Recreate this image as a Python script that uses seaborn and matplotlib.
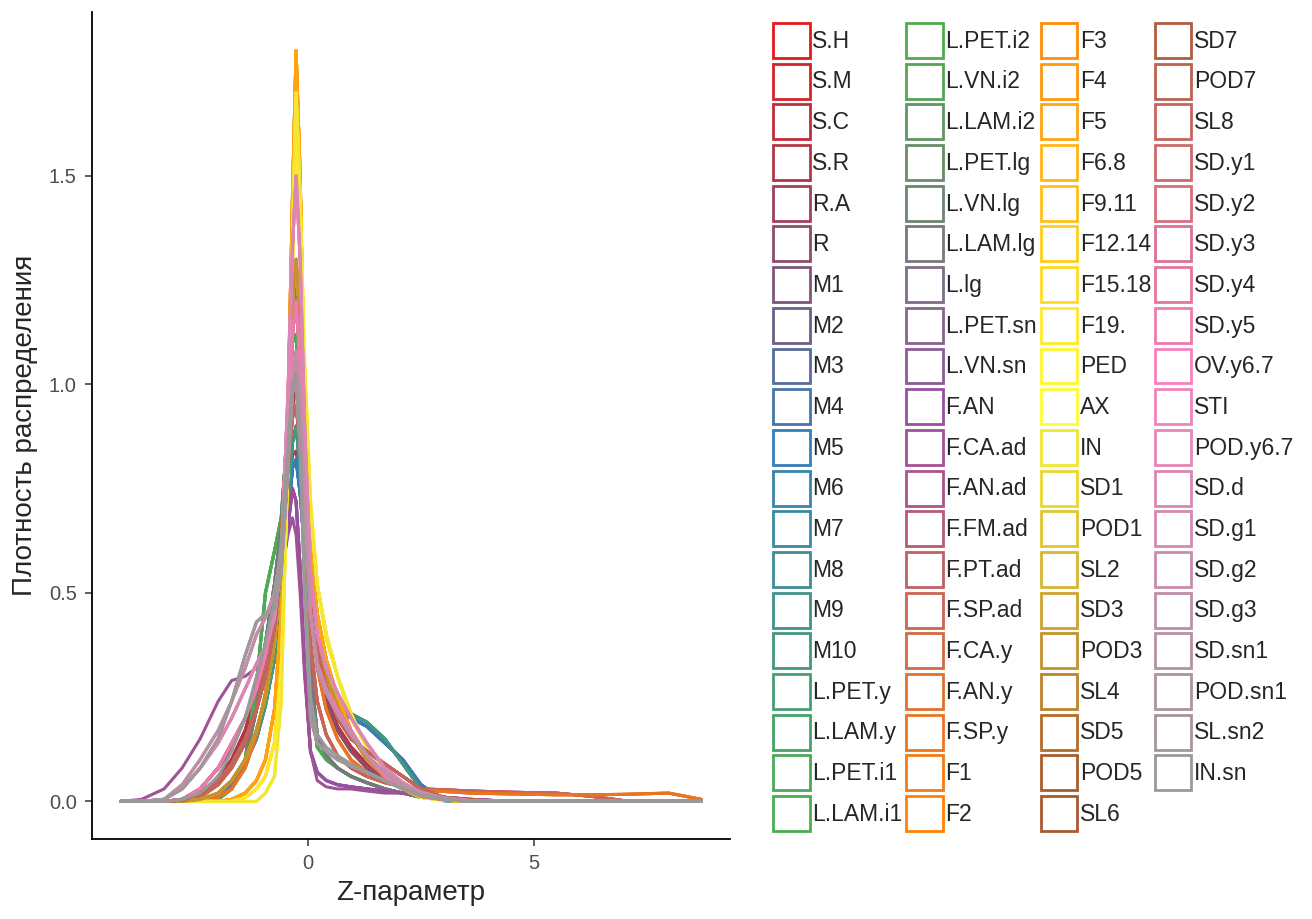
import numpy as np
import pandas as pd
import matplotlib
matplotlib.use('Agg')
import matplotlib.pyplot as plt
from matplotlib.colors import LinearSegmentedColormap
from matplotlib.patches import Patch
import seaborn as sns

z_grid = [-4.16, -3.7, -3.2, -2.8, -2.4, -2.0, -1.7, -1.4,
          -1.15, -0.95, -0.75, -0.6, -0.45, -0.35, -0.27, -0.18, -0.08, 0.05,
          0.2, 0.4, 0.65, 0.95, 1.3, 1.7, 2.1, 2.5,
          3.0, 3.6, 4.5, 5.5, 6.3, 7.0, 8.0, 8.72]

# density curves, one per group of traits with a similar shape
stem = [0, 0, 0, 0, 0.01, 0.06, 0.1, 0.17,
        0.26, 0.35, 0.45, 0.58, 0.8, 0.95, 1.0, 0.9, 0.7, 0.48,
        0.34, 0.25, 0.18, 0.13, 0.09, 0.06, 0.035, 0.02,
        0.01, 0.004, 0, 0, 0, 0, 0, 0]
root = [0, 0, 0, 0.005, 0.03, 0.08, 0.13, 0.2,
        0.28, 0.36, 0.46, 0.58, 0.74, 0.83, 0.84, 0.78, 0.64, 0.46,
        0.33, 0.24, 0.17, 0.12, 0.08, 0.05, 0.03, 0.015,
        0.006, 0.002, 0, 0, 0, 0, 0, 0]
m_a = [0, 0, 0, 0, 0.003, 0.02, 0.05, 0.1,
       0.17, 0.25, 0.36, 0.5, 0.68, 0.8, 0.82, 0.74, 0.6, 0.45,
       0.34, 0.27, 0.22, 0.2, 0.18, 0.14, 0.1, 0.04,
       0.003, 0, 0, 0, 0, 0, 0, 0]
m_b = [0, 0, 0, 0, 0, 0.01, 0.04, 0.09,
       0.15, 0.23, 0.34, 0.5, 0.72, 0.86, 0.9, 0.8, 0.62, 0.46,
       0.35, 0.28, 0.23, 0.21, 0.19, 0.15, 0.09, 0.03,
       0.002, 0, 0, 0, 0, 0, 0, 0]
leaf_a = [0, 0, 0, 0, 0, 0.005, 0.03, 0.1,
          0.28, 0.5, 0.6, 0.68, 0.9, 1.1, 1.12, 0.95, 0.6, 0.25,
          0.13, 0.1, 0.08, 0.06, 0.045, 0.03, 0.02, 0.01,
          0.005, 0, 0, 0, 0, 0, 0, 0]
leaf_b = [0, 0, 0, 0, 0, 0.01, 0.04, 0.1,
          0.22, 0.38, 0.52, 0.66, 0.92, 1.18, 1.25, 1.1, 0.72, 0.32,
          0.16, 0.11, 0.08, 0.06, 0.045, 0.03, 0.02, 0.01,
          0.004, 0, 0, 0, 0, 0, 0, 0]
leaf_c = [0, 0, 0, 0.005, 0.03, 0.08, 0.13, 0.2,
          0.27, 0.34, 0.42, 0.52, 0.66, 0.75, 0.72, 0.56, 0.32, 0.12,
          0.07, 0.05, 0.04, 0.035, 0.03, 0.025, 0.02, 0.015,
          0.01, 0.005, 0, 0, 0, 0, 0, 0]
bimodal = [0, 0.005, 0.03, 0.08, 0.15, 0.24, 0.29, 0.3,
           0.32, 0.36, 0.44, 0.54, 0.64, 0.68, 0.64, 0.5, 0.3, 0.12,
           0.05, 0.035, 0.03, 0.03, 0.025, 0.02, 0.02, 0.015,
           0.01, 0.005, 0, 0, 0, 0, 0, 0]
f_ad = [0, 0, 0, 0, 0.01, 0.04, 0.08, 0.14,
        0.22, 0.32, 0.45, 0.6, 0.8, 0.92, 0.95, 0.85, 0.62, 0.38,
        0.24, 0.16, 0.11, 0.08, 0.06, 0.045, 0.035, 0.03,
        0.028, 0.025, 0.022, 0.02, 0.012, 0.002, 0, 0]
f_y = [0, 0, 0, 0, 0, 0.01, 0.03, 0.08,
       0.16, 0.26, 0.42, 0.62, 0.95, 1.2, 1.3, 1.15, 0.8, 0.5,
       0.32, 0.22, 0.15, 0.1, 0.07, 0.05, 0.035, 0.028,
       0.024, 0.02, 0.018, 0.016, 0.016, 0.017, 0.02, 0.005]
f_tall = [0, 0, 0, 0, 0, 0, 0.005, 0.02,
          0.05, 0.1, 0.22, 0.45, 0.95, 1.45, 1.8, 1.5, 0.95, 0.6,
          0.45, 0.34, 0.25, 0.17, 0.1, 0.06, 0.03, 0.012,
          0.004, 0, 0, 0, 0, 0, 0, 0]
f_mid = [0, 0, 0, 0, 0, 0, 0, 0.01,
         0.03, 0.06, 0.14, 0.32, 0.8, 1.3, 1.6, 1.4, 1.0, 0.7,
         0.52, 0.4, 0.3, 0.21, 0.13, 0.07, 0.03, 0.01,
         0.003, 0, 0, 0, 0, 0, 0, 0]
ped = [0, 0, 0, 0, 0, 0, 0, 0,
       0, 0.02, 0.06, 0.24, 0.85, 1.35, 1.7, 1.45, 1.05, 0.72,
       0.52, 0.39, 0.3, 0.2, 0.13, 0.07, 0.03, 0.01,
       0.003, 0, 0, 0, 0, 0, 0, 0]
seed_a = [0, 0, 0, 0, 0.005, 0.02, 0.05, 0.1,
          0.17, 0.25, 0.38, 0.55, 0.9, 1.2, 1.3, 1.15, 0.85, 0.56,
          0.4, 0.3, 0.23, 0.16, 0.1, 0.06, 0.03, 0.012,
          0.004, 0, 0, 0, 0, 0, 0, 0]
seed_b = [0, 0, 0, 0.003, 0.02, 0.05, 0.09, 0.15,
          0.22, 0.3, 0.42, 0.57, 0.8, 0.98, 1.05, 0.95, 0.72, 0.5,
          0.36, 0.27, 0.2, 0.15, 0.12, 0.09, 0.06, 0.03,
          0.01, 0.003, 0, 0, 0, 0, 0, 0]
sd_y = [0, 0, 0, 0.005, 0.03, 0.08, 0.14, 0.2,
        0.27, 0.35, 0.45, 0.6, 0.88, 1.12, 1.2, 1.05, 0.75, 0.45,
        0.33, 0.27, 0.22, 0.17, 0.11, 0.06, 0.03, 0.015,
        0.005, 0, 0, 0, 0, 0, 0, 0]
pink_a = [0, 0, 0.005, 0.03, 0.08, 0.14, 0.2, 0.27,
          0.33, 0.37, 0.44, 0.58, 0.98, 1.33, 1.5, 1.3, 0.9, 0.55,
          0.4, 0.32, 0.26, 0.2, 0.14, 0.08, 0.045, 0.022,
          0.008, 0.002, 0, 0, 0, 0, 0, 0]
pink_b = [0, 0, 0.005, 0.04, 0.1, 0.17, 0.24, 0.32,
          0.4, 0.44, 0.5, 0.6, 0.82, 1.0, 1.08, 0.98, 0.72, 0.45,
          0.32, 0.26, 0.21, 0.16, 0.11, 0.07, 0.04, 0.02,
          0.008, 0, 0, 0, 0, 0, 0, 0]
sn = [0, 0, 0.005, 0.03, 0.08, 0.15, 0.24, 0.35,
      0.43, 0.45, 0.46, 0.55, 0.8, 0.98, 1.0, 0.85, 0.5, 0.2,
      0.14, 0.12, 0.1, 0.085, 0.07, 0.05, 0.03, 0.015,
      0.006, 0, 0, 0, 0, 0, 0, 0]
in_sn = [0, 0, 0, 0.005, 0.02, 0.06, 0.12, 0.2,
         0.3, 0.38, 0.48, 0.62, 0.85, 1.0, 1.02, 0.88, 0.55, 0.25,
         0.16, 0.13, 0.11, 0.09, 0.07, 0.05, 0.03, 0.015,
         0.005, 0, 0, 0, 0, 0, 0, 0]

# traits in legend order and the curve each one follows
series_names = ['S.H', 'S.M', 'S.C', 'S.R', 'R.A', 'R',
                'M1', 'M2', 'M3', 'M4', 'M5', 'M6', 'M7', 'M8', 'M9', 'M10',
                'L.PET.y', 'L.LAM.y', 'L.PET.i1', 'L.LAM.i1',
                'L.PET.i2', 'L.VN.i2', 'L.LAM.i2', 'L.PET.lg', 'L.VN.lg', 'L.LAM.lg',
                'L.lg', 'L.PET.sn', 'L.VN.sn', 'F.AN', 'F.CA.ad',
                'F.AN.ad', 'F.FM.ad', 'F.PT.ad', 'F.SP.ad',
                'F.CA.y', 'F.AN.y', 'F.SP.y',
                'F1', 'F2', 'F3', 'F4', 'F5',
                'F6.8', 'F9.11', 'F12.14', 'F15.18', 'F19.',
                'PED', 'AX', 'IN',
                'SD1', 'POD1', 'SL2', 'SD3', 'POD3',
                'SL4', 'SD5', 'POD5', 'SL6', 'SD7', 'POD7', 'SL8',
                'SD.y1', 'SD.y2', 'SD.y3', 'SD.y4', 'SD.y5',
                'OV.y6.7', 'STI', 'POD.y6.7', 'SD.d',
                'SD.g1', 'SD.g2', 'SD.g3',
                'SD.sn1', 'POD.sn1', 'SL.sn2', 'IN.sn']
series_shape = ['stem'] * 4 + ['root'] * 2 + ['m_a'] * 5 + ['m_b'] * 5 + \
               ['leaf_a'] * 4 + ['leaf_b'] * 6 + ['leaf_c'] * 4 + ['bimodal'] + \
               ['f_ad'] * 4 + ['f_y'] * 3 + ['f_tall'] * 5 + ['f_mid'] * 5 + \
               ['ped'] * 3 + ['seed_a'] * 5 + ['seed_b'] * 7 + ['sd_y'] * 5 + \
               ['pink_a'] * 4 + ['pink_b'] * 3 + ['sn'] * 3 + ['in_sn']

curves = {'stem': stem, 'root': root, 'm_a': m_a, 'm_b': m_b,
          'leaf_a': leaf_a, 'leaf_b': leaf_b, 'leaf_c': leaf_c, 'bimodal': bimodal,
          'f_ad': f_ad, 'f_y': f_y, 'f_tall': f_tall, 'f_mid': f_mid, 'ped': ped,
          'seed_a': seed_a, 'seed_b': seed_b, 'sd_y': sd_y,
          'pink_a': pink_a, 'pink_b': pink_b, 'sn': sn, 'in_sn': in_sn}

# long table: one row per trait and z value
rows = []
for name, shape in zip(series_names, series_shape):
    for z, d in zip(z_grid, curves[shape]):
        rows.append((name, z, d))
df = pd.DataFrame(rows, columns=['trait', 'z', 'density'])

# Set1 colours stretched over all traits
set1 = ['#E41A1C', '#377EB8', '#4DAF4A', '#984EA3', '#FF7F00',
        '#FFFF33', '#A65628', '#F781BF', '#999999']
ramp = LinearSegmentedColormap.from_list('set1_ramp', set1)
colors = [ramp(v) for v in np.linspace(0, 1, len(series_names))]

sns.set_theme(style='ticks')
plt.rcParams['font.family'] = ['Liberation Sans', 'DejaVu Sans']

fig = plt.figure(figsize=(13.12, 9.19), dpi=100)
ax = fig.add_axes([0.0701, 0.087, 0.4863, 0.900])

sns.lineplot(data=df, x='z', y='density', hue='trait', hue_order=series_names,
             palette=colors, estimator=None, linewidth=2.2, legend=False, ax=ax)

ax.set_xlim(-4.8, 9.36)
ax.set_ylim(-0.0902, 1.893)
ax.set_xticks([0, 5])
ax.set_xticklabels(['0', '5'])
ax.set_yticks([0, 0.5, 1.0, 1.5])
ax.set_yticklabels(['0.0', '0.5', '1.0', '1.5'])
sns.despine(ax=ax)
for side in ['left', 'bottom']:
    ax.spines[side].set_linewidth(1.3)
    ax.spines[side].set_color('black')
ax.tick_params(length=5, width=1.1, color='#333333', labelcolor='#4D4D4D',
               labelsize=14.5, pad=6)

ax.set_xlabel('Z-параметр', fontsize=20)
ax.set_ylabel('Плотность распределения', fontsize=20)
ax.xaxis.set_label_coords(0.5, -0.05)
ax.yaxis.set_label_coords(-0.085, 0.5)

handles = [Patch(facecolor='white', edgecolor=c, linewidth=2.0, label=n)
           for n, c in zip(series_names, colors)]
fig.legend(handles=handles, loc='upper left', bbox_to_anchor=(773 / 1312, 1 - 23 / 919),
           ncol=4, frameon=False, fontsize=16.5, handlelength=1.6, handleheight=1.97,
           handletextpad=0.12, columnspacing=0.15, labelspacing=0.25,
           borderpad=0, borderaxespad=0)

fig.savefig('out.png', dpi=100, facecolor='white')
